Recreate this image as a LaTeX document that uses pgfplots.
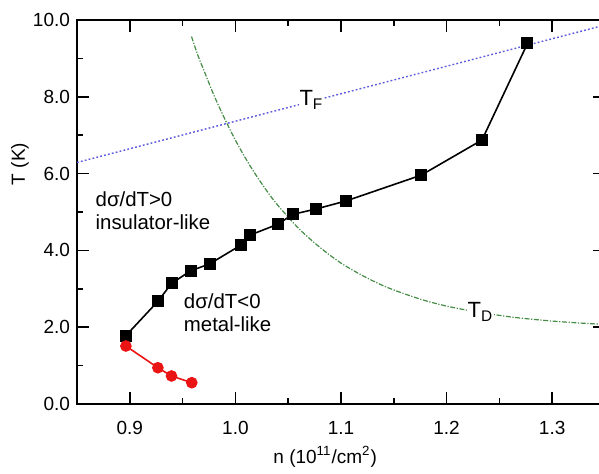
\documentclass[border=0pt]{standalone}
\usepackage{fontspec}
\setmainfont{Liberation Sans}
\usepackage{pgfplots}
\pgfplotsset{compat=1.18}
\definecolor{tfblue}{RGB}{90,90,220}
\definecolor{tdgreen}{RGB}{70,140,70}
\definecolor{ptred}{RGB}{235,20,20}

\begin{document}
\begin{tikzpicture}
\begin{axis}[
  scale only axis,
  width=264pt, height=192pt,
  xmin=0.85, xmax=1.35, ymin=0, ymax=10,
  xtick={0.9,1.0,1.1,1.2,1.3},
  ytick={0,2,4,6,8,10},
  minor x tick num=1, minor y tick num=1,
  tick align=inside,
  major tick length=6pt, minor tick length=3pt,
  axis line style={line width=1pt},
  every tick/.style={black, line width=0.8pt},
  tick label style={font=\fontsize{9.5}{11}\selectfont},
  /pgf/number format/assume math mode=true,
  xticklabel style={/pgf/number format/.cd, fixed, fixed zerofill, precision=1, /tikz/.cd, yshift=-5pt},
  yticklabel style={/pgf/number format/.cd, fixed, fixed zerofill, precision=1},
  xlabel={n (10\textsuperscript{11}/cm\textsuperscript{2})},
  ylabel={T (K)},
  label style={font=\fontsize{9.5}{11}\selectfont},
  xlabel style={at={(axis description cs:0.47,-0.138)}, anchor=center},
  ylabel style={at={(axis description cs:-0.108,0.625)}, anchor=center},
]
% T_F (dotted blue)
\addplot[tfblue, line width=0.7pt, dash pattern=on 0.9pt off 1.1pt] coordinates {
  (0.85,6.29) (1.35,9.87)
};
% T_D (dash-dot green)
\addplot[tdgreen, line width=0.6pt, dash pattern=on 2.5pt off 0.8pt on 0.6pt off 0.8pt, smooth] coordinates {
  (0.9584,9.57) (0.965,9.04) (0.97,8.70) (0.98,8.02) (0.99,7.42) (1.00,6.87)
  (1.01,6.38) (1.02,5.94) (1.03,5.54) (1.04,5.18) (1.06,4.57) (1.08,4.08)
  (1.10,3.67) (1.12,3.35) (1.14,3.08) (1.16,2.87) (1.18,2.69) (1.20,2.55)
  (1.22,2.44) (1.24,2.35) (1.26,2.27) (1.28,2.21) (1.30,2.16) (1.32,2.12)
  (1.35,2.07)
};
% black squares
\addplot[black, line width=0.8pt, mark=square*, mark size=2.6pt] coordinates {
  (0.8963,1.78) (0.9268,2.68) (0.9395,3.14) (0.9577,3.47) (0.9757,3.65)
  (1.0053,4.14) (1.014,4.40) (1.040,4.68) (1.0545,4.94) (1.0766,5.08)
  (1.105,5.29) (1.176,5.96) (1.2335,6.875) (1.2766,9.39)
};
% red circles
\addplot[ptred, line width=0.8pt, mark=*, mark size=2.5pt] coordinates {
  (0.8963,1.51) (0.9266,0.945) (0.9395,0.73) (0.9587,0.555)
};
\node[fill=white, inner sep=0.5pt, font=\fontsize{11}{13}\selectfont] at (axis cs:1.072,7.92) {T\textsubscript{F}};
\node[fill=white, inner sep=0.5pt, font=\fontsize{11}{13}\selectfont] at (axis cs:1.232,2.40) {T\textsubscript{D}};
\node[anchor=north west, align=left, inner sep=0pt, font=\fontsize{10.2}{11.5}\selectfont] at (axis cs:0.8673,5.55) {dσ/dT>0\\insulator-like};
\node[anchor=north west, align=left, inner sep=0pt, font=\fontsize{10.2}{11.5}\selectfont] at (axis cs:0.9509,2.88) {dσ/dT<0\\metal-like};
\end{axis}
\pgfresetboundingbox
\path (-38.5pt,-34.5pt) rectangle (261pt,202pt);
\end{tikzpicture}
\end{document}
